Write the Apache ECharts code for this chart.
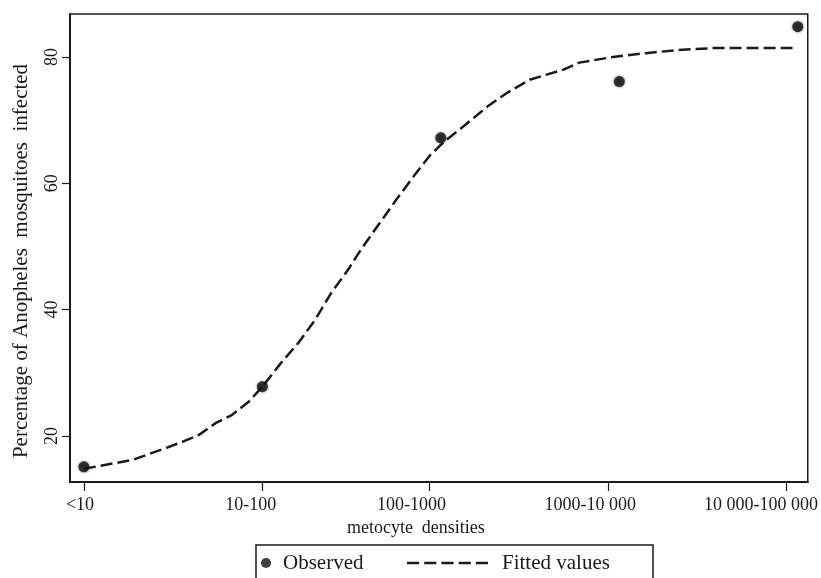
<!DOCTYPE html>
<html>
<head>
<meta charset="utf-8">
<script src="https://cdn.jsdelivr.net/npm/echarts@6/dist/echarts.min.js"></script>
<style>html,body{margin:0;padding:0;background:#fff}#c{width:821px;height:578px}</style>
</head>
<body>
<div id="c"></div>
<script>
// category labels and where they sit on the x scale
const categories = ['<10', '10-100', '100-1000', '1000-10 000', '10 000-100 000'];
const tickPos = [1, 2, 2.936, 3.937, 4.933];
const labelPos = [0.978, 1.935, 2.836, 3.837, 4.794];
// observed points
const obsX = [1, 2, 3, 4, 5];
const obsY = [15.1, 27.8, 67.2, 76.1, 84.8];
// fitted curve
const fitX = [1, 1.089, 1.273, 1.367, 1.462, 1.551, 1.645, 1.740, 1.829, 1.923, 2.0, 2.106, 2.201, 2.296, 2.385, 2.480, 2.552, 2.758, 2.853, 2.942, 3.019, 3.131, 3.259, 3.370, 3.498, 3.687, 3.776, 3.965, 4.149, 4.332, 4.522, 4.705, 4.972];
const fitY = [14.8, 15.25, 16.2, 17.15, 18.1, 19.05, 20.16, 22.06, 23.3, 25.4, 27.8, 31.6, 34.7, 38.4, 42.6, 46.3, 49.5, 57.7, 61.3, 64.5, 66.6, 69.1, 72.1, 74.3, 76.4, 78.0, 79.1, 80.0, 80.6, 81.1, 81.4, 81.4, 81.4];
const yTicks = [20, 40, 60, 80];

const FONT = "'Liberation Serif', 'Times New Roman', serif";
const INK = '#1a1a1a';
const DASH_ICON = 'path://M0,0h12v2.5h-12z M17,0h12v2.5h-12z M34,0h12v2.5h-12z M51,0h12v2.5h-12z M68,0h12v2.5h-12z';

const chart = echarts.init(document.getElementById('c'), null, {renderer: 'canvas'});
chart.setOption({
  animation: false,
  backgroundColor: '#fff',
  grid: {left: 70, right: 8, top: 14, bottom: 96, show: true, borderColor: INK, borderWidth: 1.5, containLabel: false},
  xAxis: {
    type: 'value', min: 0.922, max: 5.056,
    name: 'metocyte  densities', nameLocation: 'middle', nameGap: 28,
    nameTextStyle: {fontFamily: FONT, fontSize: 18, color: INK, lineHeight: 18, padding: [0, 46, 0, 0]},
    axisLine: {show: true, onZero: false, lineStyle: {color: INK, width: 2}},
    axisTick: {show: true, length: 9, lineStyle: {color: INK, width: 1.2}, customValues: tickPos},
    axisLabel: {
      show: true, margin: 14, fontFamily: FONT, fontSize: 18, color: INK, lineHeight: 18,
      customValues: labelPos,
      formatter: function (v) {
        let best = 0;
        for (let i = 0; i < labelPos.length; i++) if (Math.abs(labelPos[i] - v) < Math.abs(labelPos[best] - v)) best = i;
        return categories[best];
      }
    },
    splitLine: {show: false}
  },
  yAxis: {
    type: 'value', min: 12.7, max: 86.8,
    name: 'Percentage of Anopheles  mosquitoes  infected', nameLocation: 'middle', nameGap: 38, nameRotate: 90,
    nameTextStyle: {fontFamily: FONT, fontSize: 21, color: INK, padding: [0, 26, 0, 0]},
    axisLine: {show: true, onZero: false, lineStyle: {color: INK, width: 2}},
    axisTick: {show: true, length: 8, lineStyle: {color: INK, width: 1.2}, customValues: yTicks},
    axisLabel: {show: true, rotate: 90, margin: 9, fontFamily: FONT, fontSize: 18, color: INK, lineHeight: 18, customValues: yTicks},
    splitLine: {show: false}
  },
  legend: [
    {data: [{name: 'Observed', icon: 'circle', itemStyle: {color: '#111', shadowBlur: 0}}], left: 261, top: 552, padding: 0, itemWidth: 10, itemHeight: 10,
     textStyle: {fontFamily: FONT, fontSize: 21, color: INK, lineHeight: 22, padding: [0, 0, 0, 7]}},
    {data: [{name: 'Fitted values', icon: DASH_ICON, itemStyle: {color: INK, borderWidth: 0}}], left: 407, top: 552, padding: 0,
     itemWidth: 81, itemHeight: 2.5, symbolKeepAspect: false,
     textStyle: {fontFamily: FONT, fontSize: 21, color: INK, lineHeight: 22, padding: [0, 0, 0, 9]}}
  ],
  graphic: [
    {type: 'rect', shape: {x: 256, y: 545, width: 397, height: 50}, style: {fill: 'none', stroke: INK, lineWidth: 1.5}, silent: true}
  ],
  series: [
    {
      name: 'Fitted values', type: 'line', symbol: 'none', smooth: false,
      data: fitX.map((x, i) => [x, fitY[i]]),
      lineStyle: {color: INK, width: 2.5, type: [12, 5]},
      itemStyle: {color: INK}, z: 2
    },
    {
      name: 'Observed', type: 'scatter', symbol: 'circle', symbolSize: 11,
      data: obsX.map((x, i) => [x, obsY[i]]),
      itemStyle: {color: '#111', shadowBlur: 3, shadowColor: 'rgba(0,0,0,0.6)'}, z: 3
    }
  ]
});
</script>
</body>
</html>
